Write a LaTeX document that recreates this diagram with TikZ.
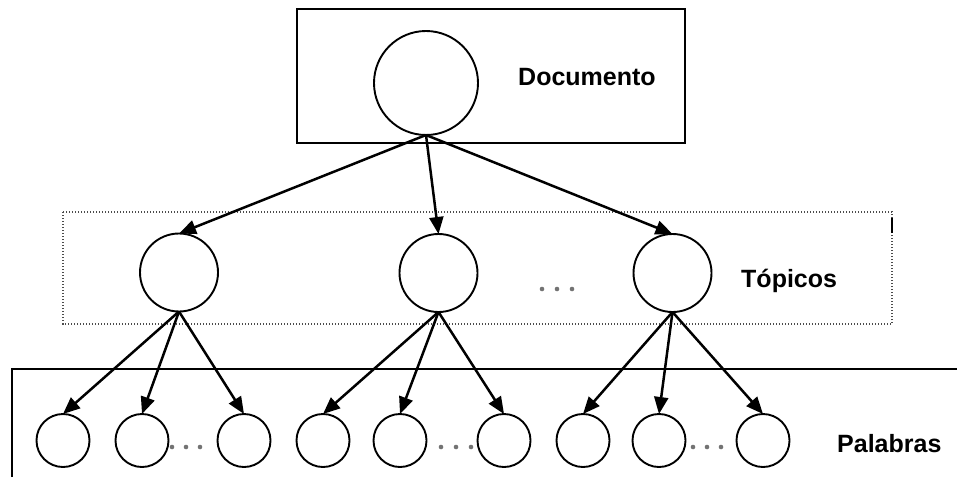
\documentclass[tikz,border=0pt]{standalone}
\usepackage{fontspec}
\setmainfont{Liberation Sans}
\usetikzlibrary{arrows.meta}
\begin{document}
\begin{tikzpicture}[x=1pt,y=-1pt,
  circ/.style={draw, circle, line width=1.9pt, inner sep=0pt, outer sep=0pt},
  bigc/.style={circ, minimum size=104pt},
  topc/.style={circ, minimum size=78pt},
  wordc/.style={circ, minimum size=53pt},
  arr/.style={line width=2.5pt, -{Triangle[length=17pt,width=14pt]}},
  lbl/.style={font=\bfseries\fontsize{25}{30}\selectfont, inner sep=0pt, anchor=base west},
  framebox/.style={line width=1.8pt},
  dotbox/.style={line width=1.4pt, black!70, dash pattern=on 1.4pt off 1.6pt},
  ell/.style={fill=black!55, circle, inner sep=0pt, minimum size=4.6pt}
]
\useasboundingbox (0,0) rectangle (957,477);

% frames of the three levels
\draw[framebox] (297,9) rectangle (685,143);
\draw[dotbox] (63,212) rectangle (892,324);
\draw[line width=2.6pt] (892,218) -- (892,233);
\draw[framebox] (12,477) -- (12,369) -- (957,369);

% document node
\node[bigc] (doc) at (426,83) {};
\node[lbl] (docl) at (518,85) {Documento};

% topic nodes
\node[topc] (t1) at (179,272.5) {};
\node[topc] (t2) at (438.5,273) {};
\node[topc] (t3) at (672.5,273) {};
\node[lbl] (topl) at (741,287) {Tópicos};
\foreach \x/\n in {542/a,557/b,572/c} \node[ell] (td\n) at (\x,289) {};

% word nodes
\foreach \x [count=\i] in {63,142,244,323,400,504,583,659,763}
  \node[wordc] (w\i) at (\x,440.5) {};
\node[lbl] (wordl) at (837,452) {Palabras};
\foreach \x [count=\i] in {172,186,200, 441,456,471, 693,707,721}
  \node[ell] (wd\i) at (\x,447) {};

% edges
\foreach \t in {t1,t2,t3} \draw[arr] (doc.south) -- (\t.north);
\foreach \w in {1,2,3} \draw[arr] (t1.south) -- (w\w.north);
\foreach \w in {4,5,6} \draw[arr] (t2.south) -- (w\w.north);
\foreach \w in {7,8,9} \draw[arr] (t3.south) -- (w\w.north);
\end{tikzpicture}
\end{document}
